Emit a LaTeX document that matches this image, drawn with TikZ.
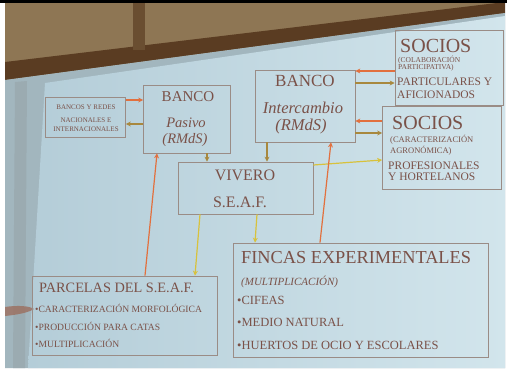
\documentclass[tikz,border=0pt]{standalone}
\usepackage{fontspec}
\setmainfont{Liberation Serif}
\usetikzlibrary{arrows.meta}
\definecolor{slideL}{HTML}{B4CDD8}
\definecolor{slideR}{HTML}{D2E5EC}
\definecolor{boardc}{HTML}{A2B6BE}
\definecolor{woodD}{HTML}{5A3C22}
\definecolor{woodL}{HTML}{8E7654}
\definecolor{txtc}{HTML}{7A5148}
\definecolor{boxc}{HTML}{9A8C86}
\definecolor{orangec}{HTML}{E2703E}
\definecolor{olivec}{HTML}{A8883E}
\definecolor{yellowc}{HTML}{D8C23C}
\definecolor{skinc}{HTML}{9C6E5E}
\begin{document}
\begin{tikzpicture}[x=1pt,y=-1pt,
  box/.style={draw=boxc, line width=0.7pt, inner sep=0pt, minimum width=#1},
  box/.default=10,
  txt/.style={text=txtc, inner sep=0pt},
  arr/.style={line width=1.2pt, -{Stealth[length=5pt,width=5pt]}}]
\useasboundingbox (0,0) rectangle (507,378);
% photo surroundings
\fill[white] (0,0) rectangle (507,378);
\fill[woodL] (5,3) rectangle (505,80);
\fill[woodD] (5,62) -- (505,2) -- (505,13) -- (5,80) -- cycle;
\fill[woodD!70!woodL] (133,3) rectangle (145,50);
\fill[black] (0,0) rectangle (507,3);
\fill[boardc] (5,80) -- (505,13) -- (505,368) -- (5,368) -- cycle;
\fill[boardc!80!gray] (15,82) -- (27,81) -- (25,368) -- (13,368) -- cycle;
\begin{scope}
\clip (45,83) -- (505,16) -- (505,368) -- (28,368) -- cycle;
\shade[left color=slideL, right color=slideR] (28,16) rectangle (505,368);
\end{scope}
\fill[skinc, opacity=0.8] (5,307) .. controls (18,305) and (30,306) .. (34,309) .. controls (28,313) and (15,315) .. (5,316) -- cycle;
% boxes
\node[box=80, minimum height=40] (redes) at (85.5,117) {};
\node[box=87, minimum height=68] (pasivo) at (187,119) {};
\node[box=100, minimum height=72] (inter) at (305,106) {};
\node[box=108, minimum height=75] (soc1) at (449,67.5) {};
\node[box=119, minimum height=83] (soc2) at (442,147.5) {};
\node[box=135, minimum height=52] (vivero) at (245.5,188) {};
\node[box=185, minimum height=79] (parcelas) at (124.5,315.5) {};
\node[box=255, minimum height=114] (fincas) at (360.5,300) {};
% texts
\node[txt, font=\fontsize{7}{8}\selectfont] (r1) at (86,107) {BANCOS Y REDES};
\node[txt, font=\fontsize{7}{8}\selectfont] (r2) at (86,120) {NACIONALES E};
\node[txt, font=\fontsize{7}{8}\selectfont] (r3) at (86,129) {INTERNACIONALES};
\node[txt, font=\fontsize{15}{16}\selectfont] (p1) at (188,97) {BANCO};
\node[txt, font=\itshape\fontsize{14.5}{16}\selectfont] (p2) at (186,123) {Pasivo};
\node[txt, font=\itshape\fontsize{14.5}{16}\selectfont] (p3) at (185,140) {(RMdS)};
\node[txt, font=\fontsize{17}{18}\selectfont] (i1) at (305,81) {BANCO};
\node[txt, font=\itshape\fontsize{16.5}{18}\selectfont] (i2) at (303,108) {Intercambio};
\node[txt, font=\itshape\fontsize{16.5}{18}\selectfont] (i3) at (301,127) {(RMdS)};
\node[txt, anchor=west, font=\fontsize{20}{22}\selectfont] (s1a) at (400,46) {SOCIOS};
\node[txt, anchor=west, font=\fontsize{7.5}{8}\selectfont] (s1b) at (398,60) {(COLABORACIÓN};
\node[txt, anchor=west, font=\fontsize{7.5}{8}\selectfont] (s1c) at (398,68) {PARTICIPATIVA)};
\node[txt, anchor=west, font=\fontsize{11.5}{12}\selectfont] (s1d) at (397,82) {PARTICULARES Y};
\node[txt, anchor=west, font=\fontsize{11.5}{12}\selectfont] (s1e) at (397,95) {AFICIONADOS};
\node[txt, anchor=west, font=\fontsize{20}{22}\selectfont] (s2a) at (392,123) {SOCIOS};
\node[txt, anchor=west, font=\fontsize{8.5}{9}\selectfont] (s2b) at (390,140) {(CARACTERIZACIÓN};
\node[txt, anchor=west, font=\fontsize{8.5}{9}\selectfont] (s2c) at (390,151) {AGRONÓMICA)};
\node[txt, anchor=west, font=\fontsize{11.5}{12}\selectfont] (s2d) at (388,166) {PROFESIONALES};
\node[txt, anchor=west, font=\fontsize{11.5}{12}\selectfont] (s2e) at (388,177) {Y HORTELANOS};
\node[txt, font=\fontsize{16}{18}\selectfont] (v1) at (245,175) {VIVERO};
\node[txt, font=\fontsize{16}{18}\selectfont] (v2) at (240,202) {S.E.A.F.};
\node[txt, anchor=west, font=\fontsize{14.3}{15}\selectfont] (pa1) at (39,288) {PARCELAS DEL S.E.A.F.};
\node[txt, anchor=west, font=\fontsize{9.6}{10}\selectfont] (pa2) at (35,308) {•CARACTERIZACIÓN MORFOLÓGICA};
\node[txt, anchor=west, font=\fontsize{9.6}{10}\selectfont] (pa3) at (35,326) {•PRODUCCIÓN PARA CATAS};
\node[txt, anchor=west, font=\fontsize{9.6}{10}\selectfont] (pa4) at (35,343) {•MULTIPLICACIÓN};
\node[txt, anchor=west, font=\fontsize{18.3}{20}\selectfont] (f1) at (241,258) {FINCAS EXPERIMENTALES};
\node[txt, anchor=west, font=\itshape\fontsize{11}{12}\selectfont] (f2) at (241,282) {(MULTIPLICACIÓN)};
\node[txt, anchor=west, font=\fontsize{12.5}{13}\selectfont] (f3) at (237,300) {•CIFEAS};
\node[txt, anchor=west, font=\fontsize{12.5}{13}\selectfont] (f4) at (237,322) {•MEDIO NATURAL};
\node[txt, anchor=west, font=\fontsize{12.5}{13}\selectfont] (f5) at (237,345) {•HUERTOS DE OCIO Y ESCOLARES};
% connectors
\draw[arr, orangec] (redes.east |- 0,100) -- (pasivo.west |- 0,100);
\draw[arr, olivec] (pasivo.west |- 0,124) -- (redes.east |- 0,124);
\draw[arr, olivec] (pasivo.south -| 207,0) -- (vivero.north -| 207,0);
\draw[arr, olivec] (inter.south -| 267,0) -- (vivero.north -| 267,0);
\draw[arr, orangec] (soc1.west |- 0,71) -- (inter.east |- 0,71);
\draw[arr, olivec] (inter.east |- 0,83) -- (soc1.west |- 0,83);
\draw[arr, orangec] (soc2.west |- 0,121) -- (inter.east |- 0,121);
\draw[arr, olivec] (inter.east |- 0,133) -- (soc2.west |- 0,133);
\draw[arr, yellowc] (vivero.east |- 0,165) -- (soc2.west |- 0,160);
\draw[arr, orangec] (parcelas.north -| 145,0) -- (pasivo.south -| 157,0);
\draw[arr, orangec] (fincas.north -| 320,0) -- (inter.south -| 331,0);
\draw[arr, yellowc] (vivero.south -| 200,0) -- (parcelas.north -| 195,0);
\draw[arr, yellowc] (vivero.south -| 257,0) -- (fincas.north -| 255,0);
\end{tikzpicture}
\end{document}
